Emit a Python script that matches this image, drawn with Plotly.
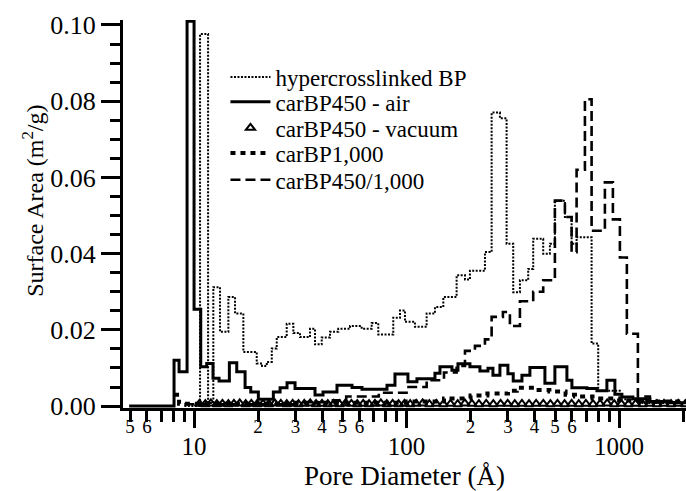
import plotly.graph_objects as go

# ---- pore-size distributions: bin edges (Å) and surface area per bin (m2/g) ----
bp_edges = [9.0, 10.67, 11.64, 12.32, 13.25, 14.50, 15.59, 17.06, 19.72, 20.88, 21.98, 23.21,
            24.49, 27.29, 29.32, 31.52, 35.13, 37.08, 39.87, 43.62, 47.71, 54.18, 61.48,
            68.52, 73.60, 86.58, 93.11, 98.28, 109.5, 124.3, 136.0, 148.9, 172.0, 188.3,
            198.7, 233.8, 251.3, 275.0, 295.6, 317.6, 341.5, 373.6, 394.4, 439.5, 472.5,
            498.8, 556.1, 597.9, 631.1, 742.5, 797.6, 1008.8, 1253, 2062]
bp_area = [0.0, 0.0976, 0.0008, 0.0312, 0.0195, 0.0286, 0.0243, 0.0142, 0.0112, 0.0105, 0.0116,
           0.0151, 0.0181, 0.0216, 0.0192, 0.0181, 0.0203, 0.0162, 0.0180, 0.0195, 0.0203,
           0.0210, 0.0203, 0.0218, 0.0188, 0.0232, 0.0251, 0.0221, 0.0208, 0.0243, 0.0260,
           0.0286, 0.0343, 0.0332, 0.0355, 0.0404, 0.0770, 0.0755, 0.0426, 0.0299, 0.0330,
           0.0360, 0.0439, 0.0400, 0.0426, 0.0539, 0.0496, 0.0426, 0.0443, 0.0164, 0.0040,
           0.0018, 0.0008]

air_edges = [4.95, 8.05, 8.50, 9.27, 10.0, 10.75, 11.47, 12.28, 13.11, 14.66, 15.88, 17.38,
             18.48, 20.07, 23.61, 25.39, 27.38, 29.87, 37.08, 40.44, 47.05, 55.37, 61.68,
             80.89, 88.19, 101.5, 111.9, 136.0, 143.6, 163.5, 174.5, 198.7, 221.4, 241.5,
             254.9, 275.0, 299.8, 317.6, 349.0, 380.5, 447.7, 498.8, 568.2, 599.8, 705.7,
             786.5, 876.3, 955.6, 1031, 1161, 1396, 1734, 2062]
air_area = [0.0, 0.0120, 0.0090, 0.1010, 0.0254, 0.0103, 0.0112, 0.0073, 0.0066, 0.0114,
            0.0090, 0.0049, 0.0037, 0.0018, 0.0037, 0.0048, 0.0061, 0.0046, 0.0029, 0.0037,
            0.0055, 0.0049, 0.0044, 0.0055, 0.0084, 0.0064, 0.0072, 0.0086, 0.0103, 0.0094,
            0.0111, 0.0103, 0.0092, 0.0099, 0.0081, 0.0107, 0.0085, 0.0066, 0.0081, 0.0101,
            0.0060, 0.0103, 0.0068, 0.0048, 0.0046, 0.0040, 0.0068, 0.0031, 0.0024, 0.0019,
            0.0012, 0.0009]

vac_diam = [10.6, 11.3, 12.0, 12.8, 13.6, 14.5, 15.4, 16.4, 17.5, 18.6, 19.8, 21.1, 22.5,
            24.0, 25.6, 27.3, 29.1, 31.0, 33.0, 35.2, 37.5, 40.0, 42.6, 45.4, 48.4, 51.6,
            55.0, 58.6, 62.5, 66.6, 71.0, 75.7, 80.7, 86.0, 91.7, 97.7, 104, 111, 119, 128,
            138, 149, 161, 174, 188, 203, 219, 237, 256, 277, 299, 323, 349, 377, 407, 440,
            475, 513, 554, 598, 646, 698, 754, 814, 879, 949, 1025, 1107, 1196, 1291, 1395,
            1506, 1627, 1757, 1898, 2050]
vac_area = [0.0006, 0.0005, 0.0007, 0.0005, 0.0006, 0.0005, 0.0006, 0.0007, 0.0005, 0.0006,
            0.0005, 0.0006, 0.0005, 0.0007, 0.0006, 0.0005, 0.0006, 0.0005, 0.0006, 0.0007,
            0.0005, 0.0006, 0.0005, 0.0006, 0.0005, 0.0007, 0.0006, 0.0005, 0.0006, 0.0005,
            0.0006, 0.0007, 0.0005, 0.0006, 0.0005, 0.0006, 0.0005, 0.0006, 0.0007, 0.0005,
            0.0006, 0.0005, 0.0006, 0.0005, 0.0007, 0.0006, 0.0005, 0.0006, 0.0005, 0.0006,
            0.0006, 0.0005, 0.0006, 0.0005, 0.0006, 0.0006, 0.0005, 0.0006, 0.0005, 0.0006,
            0.0005, 0.0006, 0.0005, 0.0006, 0.0007, 0.0005, 0.0006, 0.0005, 0.0006, 0.0005,
            0.0006, 0.0005, 0.0006, 0.0005, 0.0006, 0.0005]

bp1000_edges = [8.05, 8.5, 30, 100, 150, 200, 240, 300, 330, 400, 470, 560, 620, 750,
                1000, 1300, 2062]
bp1000_area = [0.0030, 0.0006, 0.0009, 0.0012, 0.0020, 0.0028, 0.0033, 0.0040, 0.0048,
               0.0042, 0.0038, 0.0030, 0.0025, 0.0020, 0.0015, 0.0012]

mix_edges = [9.0, 30.0, 45.0, 52.0, 74.0, 100.0, 124.3, 150.0, 172.0, 188.3, 209.8, 233.8,
             251.3, 284.0, 306.4, 341.5, 394.4, 439.5, 498.8, 556.1, 597.9, 631.1, 690.6,
             742.5, 857.5, 935.1, 1008.8, 1088, 1226, 1396, 2062]
mix_area = [0.0005, 0.0010, 0.0015, 0.0025, 0.0035, 0.0050, 0.0068, 0.0088, 0.0105, 0.0145,
            0.0158, 0.0175, 0.0234, 0.0247, 0.0210, 0.0275, 0.0300, 0.0330, 0.0539, 0.0496,
            0.0404, 0.0620, 0.0805, 0.0460, 0.0587, 0.0490, 0.0390, 0.0190, 0.0025, 0.0010]

names = ["hypercrosslinked BP", "carBP450 - air", "carBP450 - vacuum",
         "carBP1,000", "carBP450/1,000"]

# axis ticks
y_major = [0.00, 0.02, 0.04, 0.06, 0.08, 0.10]
x_decades = [10, 100, 1000]
x_minor = [5, 6, 7, 8, 9, 20, 30, 40, 50, 60, 70, 80, 90,
           200, 300, 400, 500, 600, 700, 800, 900, 2000]
x_minor_text = ["5", "6", "", "", "", "2", "3", "4", "5", "6", "", "", "",
                "2", "3", "4", "5", "6", "", "", "", "2"]

SERIF = "Liberation Serif, Times New Roman, serif"
INK = "black"


def step(edges, vals):
    return list(edges), list(vals) + [vals[-1]]


fig = go.Figure()

x, y = step(bp_edges, bp_area)
fig.add_trace(go.Scatter(x=x, y=y, mode="lines", line_shape="hv", name=names[0],
                         line=dict(color=INK, width=2, dash="2px,1.5px"),
                         legend="legend"))
x, y = step(air_edges, air_area)
fig.add_trace(go.Scatter(x=x, y=y, mode="lines", line_shape="hv", name=names[1],
                         line=dict(color=INK, width=3), legend="legend2"))
fig.add_trace(go.Scatter(x=vac_diam, y=vac_area, mode="markers", name=names[2],
                         marker=dict(symbol="triangle-up-open", size=8, color=INK,
                                     line=dict(width=2, color=INK)),
                         legend="legend3"))
x, y = step(bp1000_edges, bp1000_area)
fig.add_trace(go.Scatter(x=x, y=y, mode="lines", line_shape="hv", name=names[3],
                         line=dict(color=INK, width=4, dash="5px,5px"), legend="legend4"))
x, y = step(mix_edges, mix_area)
fig.add_trace(go.Scatter(x=x, y=y, mode="lines", line_shape="hv", name=names[4],
                         line=dict(color=INK, width=2.6, dash="10px,5px"), legend="legend5"))
# carrier for the decade-label axis
fig.add_trace(go.Scatter(x=[x_decades[0]], y=[0], xaxis="x2", mode="markers",
                         marker=dict(opacity=0), showlegend=False, hoverinfo="skip"))

legend_rows = [0.853, 0.789, 0.722, 0.657, 0.588]
legend_style = dict(x=0.182, xanchor="left", yanchor="middle", bgcolor="rgba(0,0,0,0)",
                    borderwidth=0, itemwidth=40, font=dict(family=SERIF, size=23, color=INK))
legends = {}
for i, ypos in enumerate(legend_rows):
    key = "legend" if i == 0 else f"legend{i + 1}"
    legends[key] = dict(legend_style, y=ypos)

xr = [0.6656, 3.3149]

fig.update_layout(
    width=686, height=491,
    margin=dict(l=123, r=0, t=20, b=83),
    paper_bgcolor="white", plot_bgcolor="white",
    font=dict(family=SERIF, color=INK),
    showlegend=True,
    xaxis=dict(type="log", range=xr, showgrid=False, zeroline=False,
               showline=True, linecolor=INK, linewidth=3,
               ticks="outside", ticklen=11, tickwidth=2.5, tickcolor=INK,
               tickvals=x_minor, ticktext=x_minor_text, ticklabelstandoff=-12,
               tickfont=dict(family=SERIF, size=19, color=INK)),
    xaxis2=dict(type="log", range=xr, overlaying="x", matches="x", anchor="y",
                side="bottom", showgrid=False, zeroline=False, showline=False,
                ticks="outside", ticklen=19, tickwidth=2.5, tickcolor=INK,
                tickvals=x_decades, ticktext=[str(v) for v in x_decades],
                ticklabelstandoff=-3,
                tickfont=dict(family=SERIF, size=25, color=INK)),
    yaxis=dict(range=[-0.0005, 0.1013], showgrid=False, zeroline=False,
               showline=True, linecolor=INK, linewidth=3,
               ticks="outside", ticklen=19, tickwidth=2.5, tickcolor=INK,
               tickvals=y_major, tickformat=".2f",
               tickfont=dict(family=SERIF, size=26, color=INK),
               minor=dict(dtick=0.005, tick0=0, ticks="outside", ticklen=10,
                          tickwidth=2.5, tickcolor=INK)),
    annotations=[
        dict(text="Surface Area (m<sup>2</sup>/g)", xref="paper", yref="paper",
             x=0, y=0.534, xshift=-90, xanchor="center", yanchor="middle",
             textangle=-90, showarrow=False,
             font=dict(family=SERIF, size=24, color=INK)),
        dict(text="Pore Diameter (Å)", xref="paper", yref="paper",
             x=0.5, y=0, yshift=-68, xanchor="center", yanchor="middle",
             showarrow=False, font=dict(family=SERIF, size=27, color=INK)),
    ],
    **legends,
)

fig.write_html("out.html")
